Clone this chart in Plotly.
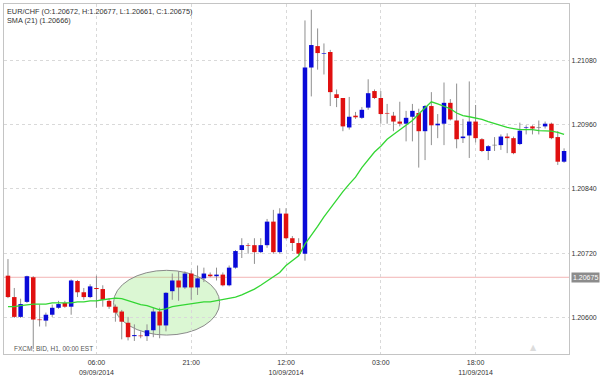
import plotly.graph_objects as go
import pandas as pd

# ---- data (hourly EUR/CHF candles) ----
start_time = "2014-09-08 16:00"
n_candles = 89
opens = [1.20678, 1.20638, 1.20601, 1.20629, 1.20675, 1.20596, 1.20594, 1.20605, 1.20618, 1.20627,
         1.20620, 1.20668, 1.20647, 1.20638, 1.20655, 1.20653, 1.20631, 1.20620, 1.20611, 1.20590,
         1.20565, 1.20566, 1.20565, 1.20576, 1.20611, 1.20585, 1.20649, 1.20669, 1.20656, 1.20682,
         1.20656, 1.20673, 1.20680, 1.20677, 1.20680, 1.20660, 1.20693, 1.20726, 1.20735, 1.20735,
         1.20722, 1.20735, 1.20779, 1.20722, 1.20794, 1.20748, 1.20739, 1.20719, 1.21067, 1.21107,
         1.21093, 1.21096, 1.21017, 1.21010, 1.20955, 1.20977, 1.20973, 1.20992, 1.21023, 1.21010,
         1.20982, 1.20977, 1.20966, 1.20962, 1.20975, 1.20982, 1.20948, 1.20995, 1.20959, 1.20962,
         1.21001, 1.20968, 1.20935, 1.20940, 1.20966, 1.20933, 1.20911, 1.20922, 1.20922, 1.20938,
         1.20935, 1.20924, 1.20954, 1.20957, 1.20955, 1.20957, 1.20962, 1.20937, 1.20891]
highs = [1.20709, 1.20655, 1.20635, 1.20678, 1.20677, 1.20624, 1.20609, 1.20624, 1.20631, 1.20631,
         1.20671, 1.20670, 1.20655, 1.20662, 1.20678, 1.20660, 1.20636, 1.20624, 1.20614, 1.20601,
         1.20587, 1.20574, 1.20587, 1.20618, 1.20618, 1.20647, 1.20682, 1.20686, 1.20686, 1.20688,
         1.20697, 1.20693, 1.20684, 1.20693, 1.20684, 1.20697, 1.20726, 1.20748, 1.20739, 1.20748,
         1.20748, 1.20784, 1.20801, 1.20804, 1.20804, 1.20752, 1.20748, 1.21155, 1.21175, 1.21140,
         1.21112, 1.21100, 1.21026, 1.21010, 1.21012, 1.20984, 1.20993, 1.21045, 1.21026, 1.21023,
         1.20999, 1.20984, 1.21003, 1.20986, 1.20999, 1.20990, 1.20997, 1.21021, 1.20980, 1.21039,
         1.21008, 1.21037, 1.20971, 1.21041, 1.20997, 1.20935, 1.20922, 1.20937, 1.20942, 1.20944,
         1.20938, 1.20964, 1.20959, 1.20959, 1.20968, 1.20966, 1.20964, 1.20948, 1.20916]
lows = [1.20636, 1.20599, 1.20599, 1.20627, 1.20541, 1.20583, 1.20583, 1.20601, 1.20616, 1.20618,
        1.20605, 1.20638, 1.20633, 1.20636, 1.20618, 1.20620, 1.20616, 1.20592, 1.20559, 1.20557,
        1.20556, 1.20561, 1.20556, 1.20563, 1.20561, 1.20574, 1.20633, 1.20631, 1.20653, 1.20633,
        1.20642, 1.20666, 1.20675, 1.20669, 1.20658, 1.20658, 1.20691, 1.20711, 1.20719, 1.20700,
        1.20720, 1.20730, 1.20719, 1.20719, 1.20746, 1.20724, 1.20715, 1.20706, 1.21013, 1.21063,
        1.21054, 1.20995, 1.20993, 1.20948, 1.20951, 1.20971, 1.20971, 1.20988, 1.21008, 1.20962,
        1.20962, 1.20948, 1.20957, 1.20929, 1.20929, 1.20880, 1.20894, 1.20922, 1.20935, 1.20922,
        1.20968, 1.20916, 1.20926, 1.20898, 1.20927, 1.20909, 1.20894, 1.20911, 1.20913, 1.20907,
        1.20905, 1.20922, 1.20942, 1.20942, 1.20942, 1.20953, 1.20933, 1.20885, 1.20889]
closes = [1.20638, 1.20601, 1.20625, 1.20677, 1.20596, 1.20595, 1.20605, 1.20618, 1.20625, 1.20620,
          1.20669, 1.20647, 1.20638, 1.20658, 1.20653, 1.20633, 1.20620, 1.20609, 1.20592, 1.20563,
          1.20567, 1.20565, 1.20576, 1.20611, 1.20585, 1.20646, 1.20669, 1.20656, 1.20682, 1.20656,
          1.20673, 1.20682, 1.20677, 1.20680, 1.20660, 1.20693, 1.20724, 1.20735, 1.20734, 1.20722,
          1.20735, 1.20779, 1.20722, 1.20794, 1.20748, 1.20739, 1.20719, 1.21067, 1.21109, 1.21094,
          1.21094, 1.21021, 1.21010, 1.20957, 1.20975, 1.20974, 1.20988, 1.21019, 1.21010, 1.20980,
          1.20981, 1.20966, 1.20962, 1.20973, 1.20986, 1.20948, 1.20995, 1.20959, 1.20962, 1.21001,
          1.20970, 1.20933, 1.20938, 1.20966, 1.20935, 1.20911, 1.20920, 1.20922, 1.20938, 1.20935,
          1.20907, 1.20949, 1.20955, 1.20953, 1.20955, 1.20962, 1.20935, 1.20891, 1.20911]
sma21 = [1.20620, 1.20620, 1.20622, 1.20624, 1.20625, 1.20625, 1.20625, 1.20627, 1.20627, 1.20627,
         1.20627, 1.20629, 1.20629, 1.20631, 1.20631, 1.20633, 1.20635, 1.20636, 1.20635, 1.20631,
         1.20627, 1.20624, 1.20622, 1.20618, 1.20614, 1.20616, 1.20620, 1.20622, 1.20624, 1.20625,
         1.20627, 1.20629, 1.20629, 1.20631, 1.20633, 1.20635, 1.20638, 1.20642, 1.20647, 1.20653,
         1.20660, 1.20668, 1.20675, 1.20684, 1.20697, 1.20706, 1.20715, 1.20737, 1.20753, 1.20770,
         1.20788, 1.20804, 1.20819, 1.20835, 1.20849, 1.20862, 1.20880, 1.20894, 1.20909, 1.20920,
         1.20933, 1.20942, 1.20951, 1.20959, 1.20968, 1.20980, 1.20992, 1.21003, 1.20999, 1.20995,
         1.20990, 1.20982, 1.20977, 1.20975, 1.20973, 1.20970, 1.20966, 1.20962, 1.20959, 1.20955,
         1.20953, 1.20951, 1.20951, 1.20951, 1.20949, 1.20949, 1.20948, 1.20946, 1.20942]

y_tick_values = [1.20600, 1.20720, 1.20840, 1.20960, 1.21080]
x_tick_times = ["2014-09-09 06:00", "2014-09-09 21:00", "2014-09-10 12:00",
                "2014-09-11 03:00", "2014-09-11 18:00"]
x_tick_labels = ["06:00<br>09/09/2014", "21:00", "12:00<br>10/09/2014",
                 "03:00", "18:00<br>11/09/2014"]
ref_price = 1.20675
title_line1 = "EUR/CHF (O:1.20672, H:1.20677, L:1.20661, C:1.20675)"
title_line2 = "SMA (21) (1.20666)"
source_text = "FXCM, BID, H1, 00:00 EST"

# ---- build ----
times = pd.date_range(start_time, periods=n_candles, freq="h")
hour = pd.Timedelta(hours=1)

wick_x, wick_y = [], []
up_x, up_y, dn_x, dn_y, fl_x, fl_y = [], [], [], [], [], []
min_body = 0.000012
for t, o, h, l, c in zip(times, opens, highs, lows, closes):
    wick_x += [t, t, None]
    wick_y += [l, h, None]
    lo, hi = min(o, c), max(o, c)
    if hi - lo < min_body:
        mid = (hi + lo) / 2
        lo, hi = mid - min_body / 2, mid + min_body / 2
    if c > o:
        up_x += [t, t, None]; up_y += [lo, hi, None]
    elif c < o:
        dn_x += [t, t, None]; dn_y += [lo, hi, None]
    else:
        fl_x += [t, t, None]; fl_y += [lo, hi, None]

FONT = "Liberation Sans"

fig = go.Figure()
fig.add_trace(go.Scatter(x=wick_x, y=wick_y, mode="lines",
                         line=dict(color="#8f8f8f", width=1), hoverinfo="skip"))
fig.add_trace(go.Scatter(x=up_x, y=up_y, mode="lines",
                         line=dict(color="#0a0ad8", width=4.5), hoverinfo="skip"))
fig.add_trace(go.Scatter(x=dn_x, y=dn_y, mode="lines",
                         line=dict(color="#e01010", width=4.5), hoverinfo="skip"))
if fl_x:
    fig.add_trace(go.Scatter(x=fl_x, y=fl_y, mode="lines",
                             line=dict(color="#7a7a7a", width=4.5), hoverinfo="skip"))
fig.add_trace(go.Scatter(x=times, y=sma21, mode="lines",
                         line=dict(color="#33d633", width=1.3), hoverinfo="skip"))

# highlight ellipse
fig.add_shape(type="circle", xref="x", yref="y",
              x0=times[0] + 16.7 * hour, x1=times[0] + 33.5 * hour,
              y0=1.20567, y1=1.20688,
              fillcolor="rgba(160,235,140,0.38)",
              line=dict(color="#8a8a8a", width=1), layer="below")
# reference price line
fig.add_shape(type="line", xref="paper", yref="y", x0=0, x1=1,
              y0=ref_price, y1=ref_price,
              line=dict(color="#f2b4b4", width=1), layer="below")

fig.add_annotation(xref="paper", yref="y", x=1, y=ref_price, xanchor="left",
                   xshift=2, text=f"{ref_price:.5f}", showarrow=False,
                   font=dict(size=7, color="white", family=FONT),
                   bgcolor="#8c8c8c", borderpad=1)
fig.add_annotation(xref="paper", yref="paper", x=0.001, y=0.996, xanchor="left",
                   yanchor="top", text=title_line1, showarrow=False,
                   font=dict(size=7.3, color="#333", family=FONT))
fig.add_annotation(xref="paper", yref="paper", x=0.001, y=0.971, xanchor="left",
                   yanchor="top", text=title_line2, showarrow=False,
                   font=dict(size=7.3, color="#333", family=FONT))
fig.add_annotation(xref="paper", yref="paper", x=0.015, y=0.0, xanchor="left",
                   yanchor="bottom", text=source_text, showarrow=False,
                   font=dict(size=6.5, color="#555", family=FONT))
fig.add_annotation(xref="paper", yref="paper", x=(533 - 3) / 566, y=0.0,
                   xanchor="center", yanchor="bottom", text="▲", showarrow=False,
                   font=dict(size=8, color="#dcdcdc", family="DejaVu Sans"))

fig.update_layout(
    width=600, height=379,
    margin=dict(l=3, r=31, t=3, b=19),
    paper_bgcolor="white", plot_bgcolor="white",
    showlegend=False,
    font=dict(family=FONT, size=7, color="#333"),
    xaxis=dict(
        type="date",
        range=[times[0] - 0.63 * hour, times[0] + 88.78 * hour],
        tickvals=pd.to_datetime(x_tick_times), ticktext=x_tick_labels,
        showgrid=True, gridcolor="#d9d9d9", griddash="dot", gridwidth=1,
        showline=True, linecolor="#c4c4c4", mirror=True, linewidth=1,
        ticks="", ticklen=0, zeroline=False, tickfont=dict(size=7, color="#333"),
        ticklabelstandoff=2,
    ),
    yaxis=dict(
        side="right",
        range=[1.205298 + 0.0000183, 1.211857],
        tickvals=y_tick_values, tickformat=".5f",
        showgrid=True, gridcolor="#d9d9d9", griddash="dot", gridwidth=1,
        showline=True, linecolor="#c4c4c4", mirror=True, linewidth=1,
        ticks="", ticklen=0, zeroline=False, tickfont=dict(size=7, color="#333"),
        ticklabelstandoff=0,
    ),
)

fig.write_html("out.html", config={"displayModeBar": False},
               post_script="document.body.style.margin='0';document.body.style.overflow='hidden';")
